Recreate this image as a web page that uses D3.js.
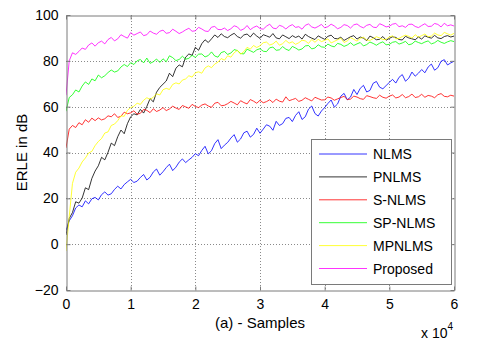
<!DOCTYPE html>
<html>
  <head>
    <meta charset="utf-8">
    <title>ERLE comparison</title>
    <script src="https://cdn.jsdelivr.net/npm/d3@7"></script>
    <style>
      body { margin: 0; background: #fff; }
      text { font-family: "Liberation Sans", Arial, sans-serif; fill: #000; }
    </style>
  </head>
  <body>
    <svg id="chart" width="480" height="358"></svg>
    <script>
// one value every 500 samples, 0 .. 60000 (x axis is in units of 10^4)
let step = 0.05;

let nlms = [
  6.0, 10.2, 12.4, 15.8, 17.1, 16.3, 18.9, 17.6, 19.8, 20.4,
  19.3, 21.6, 22.8, 21.4, 22.0, 23.9, 25.3, 24.1, 26.0, 27.2,
  28.3, 26.9, 27.5, 29.1, 30.4, 28.0, 29.2, 31.5, 32.8, 30.1,
  31.6, 33.4, 34.9, 32.1, 33.6, 35.8, 37.2, 35.6, 36.8, 37.9,
  39.5, 38.6, 40.9, 42.7, 39.4, 40.8, 43.9, 45.6, 41.7, 43.2,
  44.4, 46.3, 47.8, 44.5, 45.9, 48.6, 49.3, 46.7, 47.9, 50.6,
  48.4, 50.2, 52.1, 51.5, 49.7, 53.6, 51.8, 52.6, 54.9, 55.3,
  53.5, 56.2, 57.8, 54.4, 55.6, 58.9, 60.3, 57.0, 55.9, 58.1,
  59.6, 61.4, 62.9, 59.8, 61.2, 64.6, 65.8, 63.0, 64.2, 67.5,
  65.3, 68.0, 69.3, 66.4, 67.1, 70.2, 71.0, 68.5, 67.8, 69.2,
  70.6, 71.9, 70.3, 72.8, 74.0, 71.1, 72.4, 75.1, 73.3, 74.6,
  76.2, 74.8, 77.3, 78.6, 75.9, 77.0, 79.8, 80.5, 78.2, 79.1,
  79.8
];
let pnlms = [
  4.0, 11.2, 13.8, 18.5, 17.9, 20.1, 24.6, 23.8, 28.7, 31.9,
  34.2, 37.9, 36.8, 40.1, 44.1, 43.0, 46.9, 49.8, 48.2, 52.6,
  55.6, 56.9, 56.4, 58.8, 57.2, 60.1, 63.5, 62.1, 66.3, 68.4,
  69.8, 71.2, 74.6, 73.1, 76.8, 78.2, 77.4, 81.6, 83.0, 82.4,
  85.9, 84.6, 87.5, 89.2, 88.0, 89.6, 91.3, 90.2, 91.8, 90.6,
  90.1, 91.2, 92.0, 90.6, 89.9, 91.3, 91.7, 90.4, 92.1, 90.8,
  89.8, 91.4, 90.9, 90.3, 91.9, 90.0, 89.6, 91.3, 90.5, 89.7,
  91.0, 90.2, 90.8, 89.5, 91.6, 90.6, 89.9, 89.3, 90.9, 90.1,
  89.4, 90.7, 91.2, 89.8, 89.6, 90.3, 88.9, 89.7, 90.5, 91.0,
  89.5, 90.4, 89.9, 88.8, 90.8, 90.1, 89.2, 89.4, 90.6, 89.0,
  89.8, 90.5, 90.2, 89.3, 89.1, 90.7, 90.0, 89.6, 89.2, 90.4,
  89.5, 90.9, 90.3, 89.9, 91.1, 90.0, 89.7, 90.6, 91.0, 90.4,
  90.8
];
let snlms = [
  42.0, 50.2, 51.8, 50.9, 53.0, 52.1, 54.3, 53.2, 55.0, 53.9,
  55.1, 54.2, 54.7, 56.0, 55.6, 56.9, 55.3, 55.8, 57.6, 56.9,
  57.3, 58.2, 56.7, 57.1, 58.8, 58.4, 57.4, 59.1, 57.9, 58.5,
  59.6, 58.3, 59.0, 60.2, 59.4, 58.8, 60.5, 59.9, 59.3, 61.0,
  60.1, 59.6, 60.7, 61.2, 60.3, 59.7, 61.5, 61.9, 60.4, 60.6,
  61.3, 62.3, 61.6, 60.8, 62.6, 61.8, 61.2, 63.1, 62.4, 61.5,
  62.8, 61.7, 62.2, 63.0, 61.8, 63.3, 62.4, 62.0, 64.3, 62.6,
  63.1, 63.6, 62.3, 62.8, 63.9, 63.2, 62.5, 64.1, 63.5, 62.9,
  63.0, 64.2, 63.8, 62.8, 63.4, 64.0, 64.5, 63.1, 63.3, 64.6,
  64.2, 63.5, 63.2, 64.8, 64.4, 63.9, 63.6, 65.0, 64.1, 63.7,
  64.6, 65.1, 63.8, 64.2, 65.3, 63.9, 64.4, 65.5, 64.0, 64.3,
  65.4, 64.1, 64.9, 64.6, 63.9, 65.2, 65.7, 64.5, 64.3, 65.0,
  64.6
];
let spnlms = [
  58.0, 64.0, 65.2, 67.3, 66.4, 69.0, 70.8, 69.7, 72.1, 71.3,
  73.8, 72.6, 73.5, 74.9, 76.0, 75.1, 75.6, 77.3, 78.4, 77.5,
  79.2, 78.4, 80.0, 80.6, 79.1, 81.2, 78.9, 79.6, 80.8, 79.3,
  80.9, 79.6, 82.2, 81.4, 80.1, 80.6, 82.0, 80.7, 81.1, 82.4,
  81.5, 82.9, 83.0, 81.7, 82.3, 83.9, 82.1, 81.6, 83.6, 84.1,
  82.8, 83.4, 84.9, 84.5, 83.2, 83.0, 85.1, 84.4, 83.7, 84.8,
  85.3, 84.2, 84.0, 85.7, 86.0, 84.6, 84.8, 86.2, 85.1, 84.5,
  86.3, 85.6, 84.7, 85.2, 86.5, 86.7, 85.2, 85.6, 87.0, 86.1,
  85.9, 87.3, 86.5, 86.1, 87.6, 87.2, 86.3, 86.9, 87.9, 86.7,
  87.4, 88.0, 86.5, 87.1, 88.2, 87.6, 86.8, 87.7, 88.3, 87.0,
  87.2, 88.1, 88.4, 87.3, 87.8, 88.5, 87.0, 87.4, 88.6, 88.0,
  87.5, 88.2, 88.7, 87.4, 87.9, 88.9, 88.1, 87.6, 88.3, 88.8,
  88.4
];
let mpnlms = [
  -3.0, 12.0, 26.5, 31.4, 33.2, 35.9, 37.6, 39.8, 40.5, 43.0,
  44.8, 46.1, 48.5, 49.0, 51.8, 52.4, 53.9, 56.0, 55.8, 58.4,
  59.6, 60.2, 61.5, 61.0, 62.8, 63.9, 63.2, 64.1, 65.6, 65.1,
  67.4, 68.0, 67.5, 69.7, 70.4, 69.9, 71.6, 72.1, 73.5, 72.9,
  74.8, 75.2, 74.6, 76.9, 77.8, 77.0, 78.6, 79.4, 81.0, 80.3,
  82.2, 81.6, 83.5, 84.6, 82.9, 84.0, 85.9, 85.1, 86.7, 85.8,
  86.6, 87.9, 88.2, 86.9, 87.4, 88.6, 86.8, 87.5, 88.9, 87.7,
  88.3, 87.2, 87.9, 89.0, 88.7, 87.6, 89.3, 88.1, 89.4, 88.4,
  88.9, 89.6, 87.8, 88.5, 89.2, 89.9, 88.0, 88.7, 90.1, 89.4,
  88.6, 89.8, 90.3, 89.1, 88.9, 89.7, 90.5, 90.0, 89.3, 89.4,
  90.4, 90.9, 89.6, 89.8, 90.6, 91.2, 90.7, 89.9, 91.4, 90.3,
  91.0, 91.7, 90.5, 90.8, 92.1, 91.3, 91.0, 92.4, 91.8, 91.2,
  92.0
];
let proposed = [
  65.0, 80.0, 83.5, 82.8, 84.1, 85.6, 85.0, 86.9, 87.8, 86.4,
  87.9, 88.6, 87.4, 89.3, 90.2, 88.7, 89.6, 91.4, 90.6, 89.9,
  92.3, 91.2, 91.9, 92.6, 91.0, 91.4, 93.0, 92.1, 91.6, 92.9,
  93.4, 92.0, 92.3, 93.8, 92.9, 91.9, 92.6, 93.5, 94.2, 92.9,
  93.1, 94.6, 93.9, 93.0, 92.8, 94.7, 95.0, 93.7, 93.6, 94.3,
  93.2, 94.0, 95.3, 94.8, 93.3, 93.9, 95.4, 93.6, 94.6, 95.2,
  94.1, 93.8, 95.1, 96.0, 94.3, 94.0, 95.5, 95.0, 93.9, 95.1,
  95.8, 94.6, 94.9, 93.8, 95.5, 96.1, 94.8, 94.3, 95.0, 95.9,
  94.4, 94.9, 96.0, 95.2, 94.0, 94.6, 95.8, 95.4, 94.3, 95.7,
  96.1, 95.0, 94.4, 95.5, 95.9, 94.7, 94.5, 96.2, 95.6, 94.8,
  95.1, 96.0, 96.3, 94.9, 95.3, 94.6, 95.9, 96.0, 95.0, 94.5,
  95.4, 96.2, 95.0, 95.1, 96.3, 95.9, 94.8, 96.4, 95.3, 95.7,
  95.2
];

let seriesNames = ['NLMS', 'PNLMS', 'S-NLMS', 'SP-NLMS', 'MPNLMS', 'Proposed'];
let seriesColors = ['#0000ff', '#000000', '#ff0000', '#00ff00', '#ffff00', '#ff00ff'];
let seriesValues = [nlms, pnlms, snlms, spnlms, mpnlms, proposed];

let xTicks = [0, 1, 2, 3, 4, 5, 6];
let yTicks = [-20, 0, 20, 40, 60, 80, 100];

let plotLeft = 66, plotRight = 454, plotTop = 15, plotBottom = 290;

let svg = d3.select('#chart');

let x = d3.scaleLinear().domain([0, 6]).range([plotLeft, plotRight]);
let y = d3.scaleLinear().domain([-20, 100]).range([plotBottom, plotTop]);

// dotted grid
svg.append('g')
  .selectAll('line')
  .data(xTicks.slice(1, -1))
  .enter()
  .append('line')
  .attr('x1', d => Math.round(x(d)) + 0.5)
  .attr('x2', d => Math.round(x(d)) + 0.5)
  .attr('y1', plotTop)
  .attr('y2', plotBottom)
  .attr('stroke', '#8a8a8a')
  .attr('stroke-dasharray', '1,2');
svg.append('g')
  .selectAll('line')
  .data(yTicks.slice(1, -1))
  .enter()
  .append('line')
  .attr('x1', plotLeft)
  .attr('x2', plotRight)
  .attr('y1', d => Math.round(y(d)) + 0.5)
  .attr('y2', d => Math.round(y(d)) + 0.5)
  .attr('stroke', '#8a8a8a')
  .attr('stroke-dasharray', '1,2');

svg.append('clipPath')
  .attr('id', 'plot-clip')
  .append('rect')
  .attr('x', plotLeft)
  .attr('y', plotTop)
  .attr('width', plotRight - plotLeft)
  .attr('height', plotBottom - plotTop);

let line = d3.line()
  .x((d, i) => x(i * step))
  .y(d => y(d));

svg.append('g')
  .attr('clip-path', 'url(#plot-clip)')
  .selectAll('path')
  .data(seriesValues)
  .enter()
  .append('path')
  .attr('d', line)
  .attr('fill', 'none')
  .attr('stroke', (d, i) => seriesColors[i])
  .attr('stroke-width', 0.8);

// axes, matlab style: box with inward ticks on every side
let axisColor = '#7a7a7a';
let fmt = d3.format('d');
let xAxis = svg.append('g')
  .attr('transform', 'translate(0,' + (plotBottom + 0.5) + ')')
  .call(d3.axisBottom(x).tickValues(xTicks).tickFormat(fmt)
    .tickSizeInner(-4).tickSizeOuter(0).tickPadding(9));
let yAxis = svg.append('g')
  .attr('transform', 'translate(' + (plotLeft + 0.5) + ',0)')
  .call(d3.axisLeft(y).tickValues(yTicks).tickFormat(fmt)
    .tickSizeInner(-4).tickSizeOuter(0).tickPadding(8));
let xTop = svg.append('g')
  .attr('transform', 'translate(0,' + (plotTop + 0.5) + ')')
  .call(d3.axisTop(x).tickValues(xTicks).tickSizeInner(-4).tickSizeOuter(0).tickFormat(''));
let yRight = svg.append('g')
  .attr('transform', 'translate(' + (plotRight + 0.5) + ',0)')
  .call(d3.axisRight(y).tickValues(yTicks).tickSizeInner(-4).tickSizeOuter(0).tickFormat(''));

[xAxis, yAxis, xTop, yRight].forEach(function(g) {
  g.selectAll('.domain').attr('stroke', axisColor);
  g.selectAll('.tick line').attr('stroke', axisColor);
  g.selectAll('.tick text')
    .style('font-family', '"Liberation Sans", Arial, sans-serif')
    .style('font-size', '14px')
    .attr('fill', '#000');
});

svg.append('text')
  .attr('x', (plotLeft + plotRight) / 2)
  .attr('y', 328)
  .attr('text-anchor', 'middle')
  .style('font-size', '15px')
  .text('(a) - Samples');

let expo = svg.append('text')
  .attr('x', 421)
  .attr('y', 338)
  .style('font-size', '14px')
  .text('x 10');
expo.append('tspan')
  .attr('dy', -8)
  .style('font-size', '10px')
  .text('4');

svg.append('text')
  .attr('transform', 'translate(27,' + ((plotTop + plotBottom) / 2) + ') rotate(-90)')
  .attr('text-anchor', 'middle')
  .style('font-size', '15px')
  .text('ERLE in dB');

// legend
let legend = svg.append('g');
legend.append('rect')
  .attr('x', 311.5)
  .attr('y', 139.5)
  .attr('width', 140)
  .attr('height', 145)
  .attr('fill', '#fff')
  .attr('stroke', axisColor);

let rows = legend.selectAll('.entry')
  .data(seriesNames)
  .enter()
  .append('g')
  .attr('class', 'entry')
  .attr('transform', (d, i) => 'translate(0,' + (154 + i * 22.9) + ')');
rows.append('line')
  .attr('x1', 319)
  .attr('x2', 367)
  .attr('stroke', (d, i) => seriesColors[i])
  .attr('stroke-width', 0.8);
rows.append('text')
  .attr('x', 373)
  .attr('y', 5)
  .style('font-size', '14px')
  .text(d => d);
    </script>
  </body>
</html>
